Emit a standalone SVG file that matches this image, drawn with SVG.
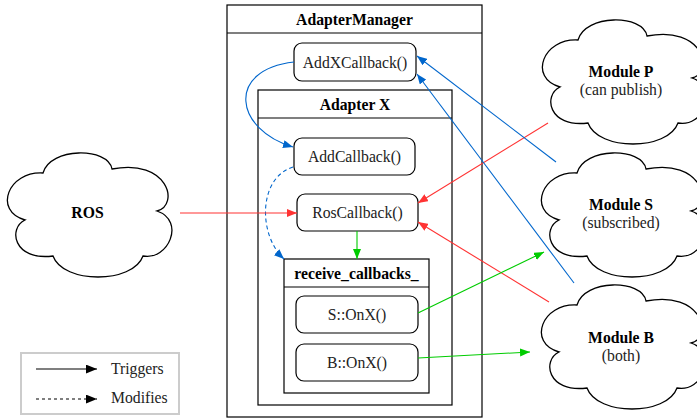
<svg xmlns="http://www.w3.org/2000/svg" width="697" height="418" viewBox="0 0 697 418">
  <style>
    text { font-family: "Liberation Serif", "Times New Roman", serif; font-size: 15.7px; fill: #222; text-anchor: middle; }
    .b { font-weight: bold; fill: #000; }
    .box { fill: #fff; stroke: #000; stroke-width: 1.2; }
    .fn { fill: #fff; stroke: #000; stroke-width: 1.2; }
    .cloud { fill: #fff; stroke: #000; stroke-width: 1.3; }
    .c { fill: none; stroke-width: 1.1; }
    .blue { stroke: #0066CC; }
    .red { stroke: #FF3333; }
    .green { stroke: #00CC00; }
    .dash { stroke-dasharray: 4 3; }
  </style>
  <defs>
    <path id="cloud" d="M35,20 C0,18 -15,58 17,67 C0,75 5,108 45,103 C55,131 125,131 135,103 C160,108 178,68 149,58 C172,52 160,5 104,16 C100,-6 42,-6 35,20 Z"/>
    <marker id="aBlue" viewBox="0 0 10 8" refX="10" refY="4" markerWidth="10" markerHeight="8" markerUnits="userSpaceOnUse" orient="auto">
      <path d="M0,0 L10,4 L0,8 Z" fill="#0066CC"/>
    </marker>
    <marker id="aRed" viewBox="0 0 10 8" refX="10" refY="4" markerWidth="10" markerHeight="8" markerUnits="userSpaceOnUse" orient="auto">
      <path d="M0,0 L10,4 L0,8 Z" fill="#FF3333"/>
    </marker>
    <marker id="aGreen" viewBox="0 0 10 8" refX="10" refY="4" markerWidth="10" markerHeight="8" markerUnits="userSpaceOnUse" orient="auto">
      <path d="M0,0 L10,4 L0,8 Z" fill="#00CC00"/>
    </marker>
    <marker id="aBlack" viewBox="0 0 10 8" refX="10" refY="4" markerWidth="11" markerHeight="9" markerUnits="userSpaceOnUse" orient="auto">
      <path d="M0,0 L10,4 L0,8 Z" fill="#000"/>
    </marker>
  </defs>

  <rect width="697" height="418" fill="#fff"/>

  <!-- AdapterManager container -->
  <g id="adapter-manager">
    <rect class="box" x="227" y="5" width="255" height="412"/>
    <line x1="227" y1="33" x2="482" y2="33" stroke="#000" stroke-width="1.2"/>
    <text class="b" x="354.5" y="24.5">AdapterManager</text>
  </g>

  <g id="add-x-callback">
    <rect class="fn" x="294" y="43" width="122" height="38" rx="8"/>
    <text x="355" y="67.5">AddXCallback()</text>
  </g>

  <!-- Adapter X container -->
  <g id="adapter-x">
    <rect class="box" x="258" y="90" width="194" height="315"/>
    <line x1="258" y1="118" x2="452" y2="118" stroke="#000" stroke-width="1.2"/>
    <text class="b" x="355" y="110">Adapter X</text>
  </g>

  <g id="add-callback">
    <rect class="fn" x="294" y="138" width="121" height="37" rx="8"/>
    <text x="354.5" y="162">AddCallback()</text>
  </g>

  <g id="ros-callback">
    <rect class="fn" x="297" y="194" width="121" height="37" rx="8"/>
    <text x="357.5" y="218">RosCallback()</text>
  </g>

  <g id="receive-callbacks">
    <rect class="box" x="284" y="259" width="145" height="134"/>
    <line x1="284" y1="287" x2="429" y2="287" stroke="#000" stroke-width="1.2"/>
    <text class="b" x="356.5" y="279">receive_callbacks_</text>
  </g>

  <g id="s-onx">
    <rect class="fn" x="296" y="296" width="122" height="37" rx="8"/>
    <text x="357" y="320">S::OnX()</text>
  </g>

  <g id="b-onx">
    <rect class="fn" x="296" y="344" width="122" height="37" rx="8"/>
    <text x="357" y="368">B::OnX()</text>
  </g>

  <!-- Clouds -->
  <g id="ros">
    <use href="#cloud" class="cloud" transform="translate(8,153)"/>
    <text class="b" x="87.5" y="218">ROS</text>
  </g>

  <g id="module-p">
    <use href="#cloud" class="cloud" transform="translate(543,20)"/>
    <text class="b" x="621" y="77">Module P</text>
    <text x="621" y="95">(can publish)</text>
  </g>

  <g id="module-s">
    <use href="#cloud" class="cloud" transform="translate(542,153)"/>
    <text class="b" x="621" y="210">Module S</text>
    <text x="621" y="228">(subscribed)</text>
  </g>

  <g id="module-b">
    <use href="#cloud" class="cloud" transform="translate(542,285)"/>
    <text class="b" x="621" y="343">Module B</text>
    <text x="621" y="361">(both)</text>
  </g>

  <!-- Connectors -->
  <g id="connectors">
    <path class="c blue" d="M294,62 C225,70 235,130 293,147" marker-end="url(#aBlue)"/>
    <path class="c blue dash" d="M293,167 C258,178 258,235 284,259" marker-end="url(#aBlue)"/>
    <line class="c red" x1="180" y1="213" x2="297" y2="213" marker-end="url(#aRed)"/>
    <line class="c red" x1="548" y1="123" x2="418" y2="203" marker-end="url(#aRed)"/>
    <line class="c red" x1="549" y1="302" x2="418" y2="222" marker-end="url(#aRed)"/>
    <line class="c blue" x1="556" y1="162" x2="417" y2="56" marker-end="url(#aBlue)"/>
    <line class="c blue" x1="574" y1="283" x2="417" y2="74" marker-end="url(#aBlue)"/>
    <line class="c green" x1="357" y1="231" x2="357" y2="259" marker-end="url(#aGreen)"/>
    <line class="c green" x1="418" y1="313" x2="544" y2="252" marker-end="url(#aGreen)"/>
    <line class="c green" x1="418" y1="358" x2="530" y2="352" marker-end="url(#aGreen)"/>
  </g>

  <!-- Legend -->
  <g id="legend">
    <rect x="21" y="353" width="158" height="61" fill="#fff" stroke="#ccc" stroke-width="2"/>
    <line x1="36" y1="369" x2="97" y2="369" stroke="#000" stroke-width="1.2" marker-end="url(#aBlack)"/>
    <line x1="36" y1="399" x2="97" y2="399" stroke="#000" stroke-width="1.2" stroke-dasharray="3 3" marker-end="url(#aBlack)"/>
    <text x="111" y="374" style="text-anchor:start">Triggers</text>
    <text x="111" y="403" style="text-anchor:start">Modifies</text>
  </g>
</svg>
